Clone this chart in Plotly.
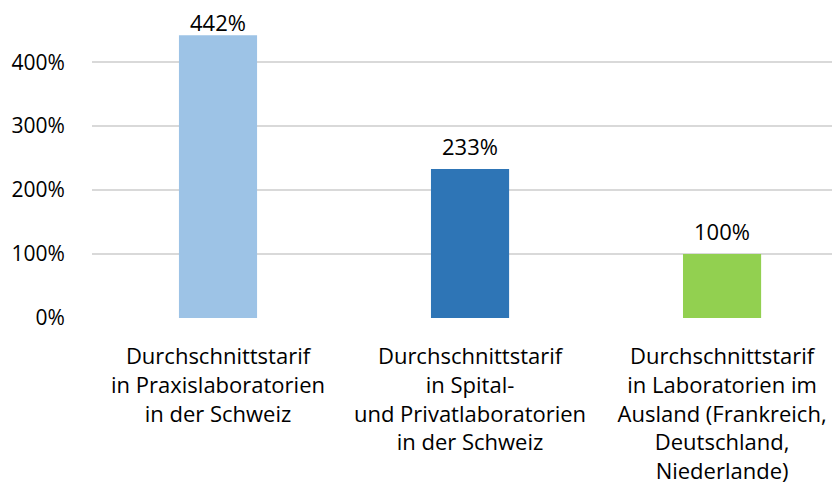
import plotly.graph_objects as go

categories = [
    "Durchschnittstarif<br>in Praxislaboratorien<br>in der Schweiz",
    "Durchschnittstarif<br>in Spital-<br>und Privatlaboratorien<br>in der Schweiz",
    "Durchschnittstarif<br>in Laboratorien im<br>Ausland (Frankreich,<br>Deutschland,<br>Niederlande)",
]
values = [442, 233, 100]
value_labels = ["442%", "233%", "100%"]
colors = ["#9DC3E6", "#2E75B6", "#92D050"]
y_ticks = [0, 100, 200, 300, 400]
y_tick_labels = ["0%", "100%", "200%", "300%", "400%"]

FONT = "Open Sans"
xpos = list(range(len(values)))

# layout geometry
FIG_W, FIG_H = 832, 479
M_L, M_R, M_T, M_B = 84, 0, 3, 169
Y_MAX = 480
PLOT_H = FIG_H - M_T - M_B

# label placement: normal gap above bar, clamped near the top of the chart
LABEL_GAP = 22      # px from bar top to label centre
LABEL_MIN_Y = 15    # px from figure top: highest allowed label centre
BASE_OFFSET = 15    # centre distance above bar top when yshift == 0

fig = go.Figure(
    go.Bar(
        x=xpos,
        y=values,
        marker=dict(color=colors, line=dict(width=0)),
        width=0.31,
        hoverinfo="skip",
    )
)

for xi, v, lab in zip(xpos, values, value_labels):
    bar_top = M_T + (Y_MAX - v) / Y_MAX * PLOT_H
    centre = max(bar_top - LABEL_GAP, LABEL_MIN_Y)
    shift = bar_top - BASE_OFFSET - centre
    fig.add_annotation(
        x=xi,
        y=v,
        text=lab,
        showarrow=False,
        xanchor="center",
        yanchor="bottom",
        yshift=shift,
        borderpad=0,
        font=dict(family=FONT, size=22, color="#000000"),
    )

fig.update_layout(
    width=FIG_W,
    height=FIG_H,
    margin=dict(l=M_L, r=M_R, t=M_T, b=M_B),
    paper_bgcolor="white",
    plot_bgcolor="white",
    showlegend=False,
    font=dict(family=FONT, size=22, color="#000000"),
    xaxis=dict(
        range=[-0.5, 2.468],
        tickmode="array",
        tickvals=xpos,
        ticktext=categories,
        showgrid=False,
        zeroline=False,
        showline=False,
        ticks="outside",
        ticklen=19,
        tickcolor="rgba(0,0,0,0)",
        tickfont=dict(family=FONT, size=22, color="#000000"),
        tickangle=0,
        automargin=False,
    ),
    yaxis=dict(
        range=[0, Y_MAX],
        tickmode="array",
        tickvals=y_ticks,
        ticktext=y_tick_labels,
        showgrid=True,
        gridcolor="#D9D9D9",
        gridwidth=1.5,
        zeroline=False,
        showline=False,
        ticks="outside",
        ticklen=22,
        tickcolor="rgba(0,0,0,0)",
        tickfont=dict(family=FONT, size=21, color="#000000"),
        automargin=False,
    ),
)

fig.write_html("out.html")
